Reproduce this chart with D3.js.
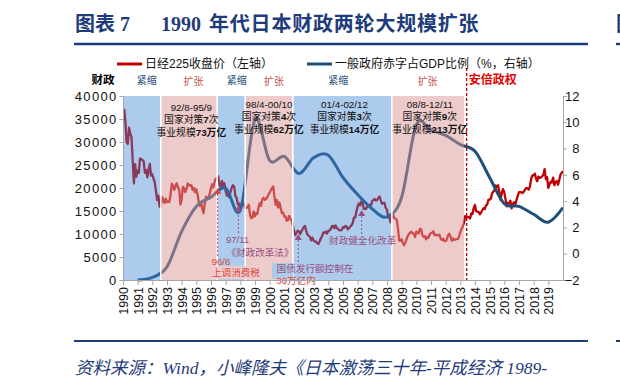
<!DOCTYPE html>
<html>
<head>
<meta charset="utf-8">
<script src="https://cdn.jsdelivr.net/npm/d3@7"></script>
<style>
body { margin: 0; background: #fff; }
svg { display: block; }
</style>
</head>
<body>
<svg id="chart" width="620" height="381"></svg>
<script>
// Nikkei 225 month-end close, Jan 1990 .. Dec 2019
var nikkeiStartYear = 1990;
var nikkeiClose = [
  37189,34591,29980,29584,33131,31940,31035,25978,20984,25194,22454,23849, // 1990
  23293,26409,26292,26111,25790,23291,23900,22335,23916,25222,22687,22984, // 1991
  22023,21339,19346,17391,18348,15952,15910,18061,17399,16767,17684,16925, // 1992
  17024,16953,18591,20919,20552,19590,20380,21027,20106,19703,16408,17417, // 1993
  20229,19997,19112,19725,20974,20644,20449,20629,19564,19990,19076,19723, // 1994
  18650,17053,16140,16807,15437,14517,16678,18117,17913,17655,18744,19868, // 1995
  20813,20125,21407,22041,21956,22531,20693,20167,21556,20467,21020,19361, // 1996
  18330,18557,18003,19151,20069,20605,20331,18229,17888,16459,16636,15259, // 1997
  16628,16831,16527,15641,15670,15830,16379,14108,13406,13564,14884,13842, // 1998
  14499,14368,15837,16702,16112,17530,17862,17437,17605,17942,18558,18934, // 1999
  19540,19960,20337,17974,16332,17411,15727,16861,15747,14539,14649,13786, // 2000
  13843,12884,12999,13934,13262,12969,11861,10714,9775,10367,10697,10543,  // 2001
  9997,10588,11025,11493,11764,10622,9877,9619,9383,8640,9216,8579,        // 2002
  8340,8363,7973,7831,8425,9083,9563,10344,10219,10560,10101,10677,        // 2003
  10784,11042,11715,11762,11236,11859,11326,11082,10824,10771,10899,11489, // 2004
  11388,11741,11669,11009,11277,11584,11900,12414,13574,13607,14872,16111, // 2005
  16650,16206,17060,16907,15468,15505,15457,16141,16128,16399,16274,17226, // 2006
  17383,17604,17288,17400,17876,18138,17249,16569,16786,16738,15681,15308, // 2007
  13592,13603,12526,13850,14339,13481,13377,13073,11260,8577,8512,8860,    // 2008
  7994,7568,8110,8828,9523,9958,10357,10493,10133,10034,9346,10546,        // 2009
  10198,10126,11090,11057,9769,9383,9537,8824,9369,9202,9937,10229,        // 2010
  10238,10624,9755,9849,9694,9816,9833,8955,8700,8988,8435,8455,           // 2011
  8803,9723,10084,9521,8543,9007,8695,8840,8870,8928,9446,10395,           // 2012
  11139,11559,12398,13861,13775,13677,13668,13389,14456,14328,15662,16291, // 2013
  14915,14841,14828,14304,14632,15162,15621,15425,16174,16414,17460,17451, // 2014
  17674,18798,19207,19520,20563,20236,20585,18890,17388,19083,19747,19034, // 2015
  17518,16027,16759,16666,17235,15576,16569,16887,16450,17425,18308,19114, // 2016
  19041,19119,18909,19197,19651,20033,19925,19646,20356,22012,22725,22765, // 2017
  23098,22068,21454,22468,22202,22305,22554,22865,24120,21920,22351,20015, // 2018
  20773,21385,21206,22259,20601,21276,21521,20704,21756,22927,23294,23657  // 2019
];

// general government deficit, % of GDP (plotted at year end)
var deficitYears = d3.range(1990, 2020);
var deficitPct = [
  -2.0, -1.8, -1.0, 1.7, 3.6, 4.3, 5.0, 3.3, 10.2, 7.1,
  7.4, 6.1, 7.3, 7.5, 5.8, 4.5, 3.4, 2.8, 4.3, 9.8,
  9.4, 9.0, 8.3, 7.8, 5.8, 3.8, 3.6, 3.0, 2.4, 3.5
];

// fiscal stance periods (start, end as fractional years)
var periodStart = [1990.0, 1992.58, 1996.42, 1998.33, 2001.58, 2008.33];
var periodEnd   = [1992.58, 1996.42, 1998.33, 2001.58, 2008.33, 2013.25];
var periodType  = ["紧缩", "扩张", "紧缩", "扩张", "紧缩", "扩张"];
var periodLabelAt = [1991.62, 1994.8, 1997.75, 2000.3, 2004.68, 2010.77];

var abeStart = 2013.43;

var leftTicks = d3.range(0, 40001, 5000);
var rightTicks = d3.range(-2, 13, 2);
var yearTicks = d3.range(1990, 2020);

// stimulus rounds
var roundAt    = [1994.66, 1999.95, 2005.1, 2010.92];
var roundDates = ["92/8-95/9", "98/4-00/10", "01/4-02/12", "08/8-12/11"];
var roundCount = ["7", "4", "3", "9"];
var roundSize  = ["73", "62", "14", "213"];

var RED = "#c00000", NAVY = "#1f4e79", PURPLE = "#97507e", LRED = "#d9473f";

function yr(v) {
  var y = Math.floor(v);
  var a = new Date(y, 0, 1), b = new Date(y + 1, 0, 1);
  return new Date(+a + (v - y) * (b - a));
}

var svg = d3.select("#chart");

var x = d3.scaleTime().domain([new Date(1990, 0, 1), new Date(2020, 0, 1)]).range([123, 563]);
var yL = d3.scaleLinear().domain([0, 40000]).range([280, 96]);
var yR = d3.scaleLinear().domain([-2, 12]).range([280, 96]);

var nikkeiData = nikkeiClose.map(function(v, i) {
  return { date: new Date(nikkeiStartYear + Math.floor(i / 12), (i % 12) + 1, 0), value: v };
});
var deficitData = deficitYears.map(function(y, i) {
  return { date: new Date(y, 11, 31), value: deficitPct[i] };
});

// lines (under the shaded periods)
svg.append("path")
  .datum(nikkeiData)
  .attr("fill", "none")
  .attr("stroke", RED)
  .attr("stroke-width", 2.3)
  .attr("stroke-linejoin", "round")
  .attr("d", d3.line().x(function(d) { return x(d.date); }).y(function(d) { return yL(d.value); }));

svg.append("path")
  .datum(deficitData)
  .attr("fill", "none")
  .attr("stroke", NAVY)
  .attr("stroke-width", 3)
  .attr("d", d3.line().curve(d3.curveCardinal.tension(0))
    .x(function(d) { return x(d.date); }).y(function(d) { return yR(d.value); }));

// shaded periods
svg.selectAll("rect.period")
  .data(periodStart)
  .enter().append("rect")
  .attr("class", "period")
  .attr("x", function(d) { return x(yr(d)); })
  .attr("width", function(d, i) { return x(yr(periodEnd[i])) - x(yr(d)); })
  .attr("y", yL(40000))
  .attr("height", yL(0) - yL(40000))
  .attr("fill", function(d, i) { return periodType[i] == "紧缩" ? "rgb(66,134,210)" : "rgb(219,151,151)"; })
  .attr("fill-opacity", function(d, i) { return periodType[i] == "紧缩" ? 0.43 : 0.5; });

svg.selectAll("line.sep")
  .data(periodEnd.slice(0, -1))
  .enter().append("line")
  .attr("x1", function(d) { return x(yr(d)); })
  .attr("x2", function(d) { return x(yr(d)); })
  .attr("y1", yL(40000)).attr("y2", yL(0))
  .attr("stroke", "#fff").attr("stroke-width", 1.5);

// text boxes behind lower notes
svg.append("rect").attr("x", 210).attr("y", 266).attr("width", 62).attr("height", 13).attr("fill", "#eecccc");
svg.append("rect").attr("x", 272).attr("y", 263).attr("width", 21).attr("height", 16).attr("fill", "#abcbe9");

// pointer lines
var pointerAt = [1996.45, 1997.87, 2001.95, 2006.27];
var pointerTop = [190, 207, 236, 212];
var pointerBottom = [256, 235, 262, 234];
var pointerColor = [LRED, PURPLE, PURPLE, PURPLE];

svg.selectAll("line.ptr")
  .data(pointerAt)
  .enter().append("line")
  .attr("x1", function(d) { return x(yr(d)); })
  .attr("x2", function(d) { return x(yr(d)); })
  .attr("y1", function(d, i) { return pointerTop[i]; })
  .attr("y2", function(d, i) { return pointerBottom[i]; })
  .attr("stroke", function(d, i) { return pointerColor[i]; })
  .attr("stroke-width", 1)
  .attr("stroke-dasharray", "2,2");

svg.selectAll("path.arrow")
  .data(pointerAt)
  .enter().append("path")
  .attr("d", d3.symbol().type(d3.symbolTriangle).size(22))
  .attr("transform", function(d, i) { return "translate(" + x(yr(d)) + "," + (pointerTop[i] + 2) + ")"; })
  .attr("fill", function(d, i) { return pointerColor[i]; });

// lower notes
var noteText = ["97/11", "《财政改革法》", "96/6", "上调消费税", "国债发行额控制在", "30万亿内", "财政健全化改革"];
var noteAt   = [1997.81, 1999.34, 1996.68, 1997.7, 2003.09, 2001.8, 2006.34];
var noteY    = [240, 252.7, 261.7, 272.7, 268.3, 280.7, 240.7];
var noteColor = [PURPLE, PURPLE, LRED, LRED, PURPLE, LRED, PURPLE];

svg.selectAll("text.note")
  .data(noteText)
  .enter().append("text")
  .attr("x", function(d, i) { return x(yr(noteAt[i])); })
  .attr("y", function(d, i) { return noteY[i]; })
  .attr("dy", "0.35em")
  .attr("text-anchor", "middle")
  .style("font-family", "'Liberation Sans','Noto Sans CJK SC',sans-serif")
  .style("font-size", "9.6px")
  .style("fill", function(d, i) { return noteColor[i]; })
  .text(function(d) { return d; });

// stimulus round labels
var rounds = svg.selectAll("g.round")
  .data(roundAt)
  .enter().append("g")
  .attr("transform", function(d, i) { return "translate(" + x(yr(d)) + "," + (i == 0 ? 108 : 105) + ")"; })
  .style("font-family", "'Liberation Sans','Noto Sans CJK SC',sans-serif")
  .style("font-size", "9.8px")
  .attr("text-anchor", "middle")
  .style("fill", "#111");

rounds.append("text").attr("dy", "0.35em").text(function(d, i) { return roundDates[i]; });
var r2 = rounds.append("text").attr("y", 12).attr("dy", "0.35em");
r2.append("tspan").text("国家对策");
r2.append("tspan").style("font-weight", "bold").text(function(d, i) { return roundCount[i]; });
r2.append("tspan").text("次");
var r3 = rounds.append("text").attr("y", 24.5).attr("dy", "0.35em");
r3.append("tspan").text("事业规模");
r3.append("tspan").style("font-weight", "bold").text(function(d, i) { return roundSize[i]; });
r3.append("tspan").style("font-weight", "bold").text("万亿");

// Abe line
svg.append("line")
  .attr("x1", x(yr(abeStart))).attr("x2", x(yr(abeStart)))
  .attr("y1", 68).attr("y2", yL(0))
  .attr("stroke", RED).attr("stroke-width", 1.3).attr("stroke-dasharray", "3,2");

svg.append("text")
  .attr("x", x(yr(abeStart)) + 26).attr("y", 79.5).attr("dy", "0.35em")
  .attr("text-anchor", "middle")
  .style("font-family", "'Noto Sans CJK SC',sans-serif")
  .style("font-size", "12px").style("font-weight", "bold")
  .style("fill", "#e00000")
  .text("安倍政权");

// period labels
svg.selectAll("text.plabel")
  .data(periodType)
  .enter().append("text")
  .attr("x", function(d, i) { return x(yr(periodLabelAt[i])); })
  .attr("y", function(d, i) { return d == "紧缩" ? 80.5 : 81.5; })
  .attr("dy", "0.35em")
  .attr("text-anchor", "middle")
  .style("font-family", "'Noto Sans CJK SC',sans-serif")
  .style("font-size", "10px")
  .style("fill", function(d) { return d == "紧缩" ? NAVY : "#c9504c"; })
  .text(function(d) { return d; });

svg.append("text")
  .attr("x", 103).attr("y", 80).attr("dy", "0.35em")
  .attr("text-anchor", "middle")
  .style("font-family", "'Noto Sans CJK SC',sans-serif")
  .style("font-size", "11.5px").style("font-weight", "bold")
  .text("财政");

// axes
var axisFont = "'Liberation Sans',Arial,sans-serif";

var gL = svg.append("g").attr("transform", "translate(123,0)")
  .call(d3.axisLeft(yL).tickValues(leftTicks).tickFormat(d3.format("d"))
    .tickSize(3.5).tickSizeOuter(0).tickPadding(2));
gL.selectAll("text").style("font-family", axisFont).style("font-size", "13px")
  .style("letter-spacing", "1.3px").style("fill", "#111");

var gR = svg.append("g").attr("transform", "translate(563,0)")
  .call(d3.axisRight(yR).tickValues(rightTicks).tickSize(4).tickSizeOuter(0));
gR.selectAll("text").attr("x", 16.5).attr("text-anchor", "end")
  .style("font-family", axisFont).style("font-size", "13px").style("fill", "#111");

var gX = svg.append("g").attr("transform", "translate(0,280)")
  .call(d3.axisBottom(x).tickValues(yearTicks.map(function(y) { return new Date(y, 0, 1); }))
    .tickFormat(d3.timeFormat("%Y")).tickSize(5).tickSizeOuter(0));
gX.selectAll("text")
  .attr("transform", "rotate(-90)")
  .attr("x", -7).attr("y", 0).attr("dy", "0.35em")
  .attr("text-anchor", "end")
  .style("font-family", axisFont).style("font-size", "12.5px").style("fill", "#111");

[gL, gR, gX].forEach(function(g) {
  g.selectAll("path.domain, line").attr("stroke", "#a6a6a6");
});

// legend
var legendX = [117, 307];
var legendColor = [RED, NAVY];
var legendText = ["日经225收盘价（左轴）", "一般政府赤字占GDP比例（%，右轴）"];
legendX.forEach(function(lx, i) {
  svg.append("line").attr("x1", lx).attr("x2", lx + 25).attr("y1", 64).attr("y2", 64)
    .attr("stroke", legendColor[i]).attr("stroke-width", 3);
  svg.append("text").attr("x", lx + 28).attr("y", 64).attr("dy", "0.35em")
    .style("font-family", "'Liberation Sans','Noto Sans CJK SC',sans-serif")
    .style("font-size", "12px").style("fill", "#111")
    .text(legendText[i]);
});

// title and source
var TITLE = "#1f3c7a";
var titleFont = "'Liberation Serif','Noto Sans CJK SC',serif";
svg.append("text").attr("x", 75).attr("y", 31)
  .style("font-family", titleFont).style("font-size", "20px").style("font-weight", "bold")
  .style("fill", TITLE).text("图表 7");
svg.append("text").attr("x", 161).attr("y", 31)
  .style("font-family", titleFont).style("font-size", "20px").style("font-weight", "bold")
  .style("fill", TITLE).text("1990");
svg.append("text").attr("x", 209).attr("y", 31)
  .style("font-family", titleFont).style("font-size", "20px").style("font-weight", "bold")
  .style("letter-spacing", "0.8px")
  .style("fill", TITLE).text("年代日本财政两轮大规模扩张");
svg.append("text").attr("x", 616).attr("y", 31)
  .style("font-family", titleFont).style("font-size", "20px").style("font-weight", "bold")
  .style("fill", TITLE).text("图");

svg.append("line").attr("x1", 74).attr("x2", 588).attr("y1", 44).attr("y2", 44)
  .attr("stroke", TITLE).attr("stroke-width", 2.4);
svg.append("line").attr("x1", 616).attr("x2", 620).attr("y1", 44).attr("y2", 44)
  .attr("stroke", TITLE).attr("stroke-width", 2.4);
svg.append("line").attr("x1", 74).attr("x2", 588).attr("y1", 341).attr("y2", 341)
  .attr("stroke", TITLE).attr("stroke-width", 2);
svg.append("line").attr("x1", 616).attr("x2", 620).attr("y1", 341).attr("y2", 341)
  .attr("stroke", TITLE).attr("stroke-width", 2);

svg.append("text").attr("x", 75).attr("y", 374)
  .style("font-family", titleFont).style("font-size", "17.5px").style("font-style", "italic")
  .style("fill", TITLE)
  .text("资料来源：Wind，小峰隆夫《日本激荡三十年-平成经济 1989-");
</script>
</body>
</html>
